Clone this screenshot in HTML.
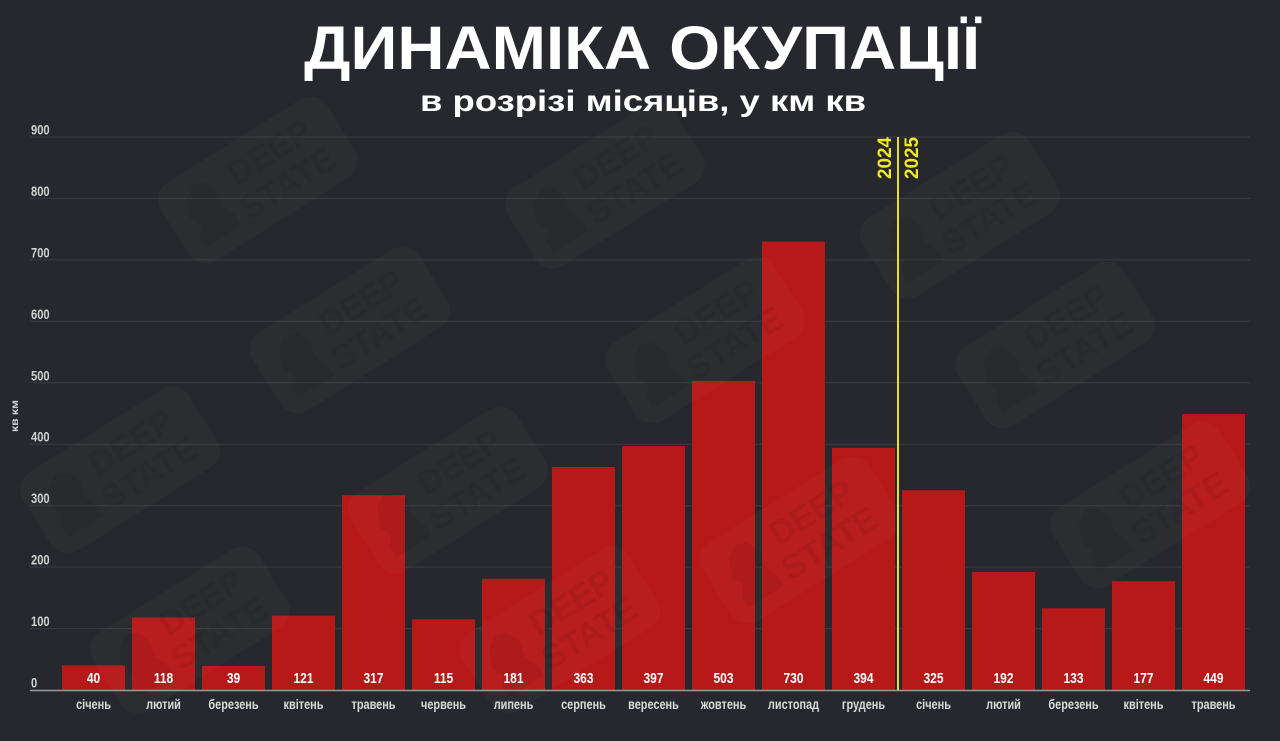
<!DOCTYPE html>
<html>
<head>
<meta charset="utf-8">
<style>
html,body{margin:0;padding:0;background:#27282d;width:1280px;height:741px;overflow:hidden;}
svg{display:block;}
text{font-family:"Liberation Sans","DejaVu Sans",sans-serif;font-weight:bold;}
</style>
</head>
<body>
<svg width="1280" height="741" viewBox="0 0 1280 741" xmlns="http://www.w3.org/2000/svg">
<rect x="0" y="0" width="1280" height="741" fill="#27282d"/>

<defs>
<clipPath id="frame"><rect x="0" y="0" width="1280" height="741"/></clipPath>
<g id="wm">
  <rect x="-98" y="-46" width="196" height="92" rx="20" fill="#ffffff" fill-opacity="0.022"/>
  <path d="M-80,30 L-80,18 L-72,8 L-78,-4 L-70,-22 L-58,-30 L-46,-26 L-40,-12 L-44,4 L-38,18 L-38,30 Z" fill="#000" fill-opacity="0.06"/>
  <text x="-22" y="-6" font-size="34" fill="#000" fill-opacity="0.06">DEEP</text>
  <text x="-30" y="30" font-size="34" fill="#000" fill-opacity="0.06">STATE</text>
</g>
</defs>

<!-- Title -->
<text x="304" y="69" font-size="61" fill="#ffffff" textLength="676" lengthAdjust="spacingAndGlyphs">ДИНАМІКА ОКУПАЦІЇ</text>
<text x="420" y="111" font-size="30" fill="#ffffff" textLength="446" lengthAdjust="spacingAndGlyphs">в розрізі місяців, у км кв</text>

<!-- Grid lines -->
<g stroke="#3b3c41" stroke-width="1">
  <line x1="30" y1="137" x2="1250" y2="137"/>
  <line x1="30" y1="198.4" x2="1250" y2="198.4"/>
  <line x1="30" y1="259.9" x2="1250" y2="259.9"/>
  <line x1="30" y1="321.3" x2="1250" y2="321.3"/>
  <line x1="30" y1="382.8" x2="1250" y2="382.8"/>
  <line x1="30" y1="444.2" x2="1250" y2="444.2"/>
  <line x1="30" y1="505.7" x2="1250" y2="505.7"/>
  <line x1="30" y1="567.1" x2="1250" y2="567.1"/>
  <line x1="30" y1="628.6" x2="1250" y2="628.6"/>
</g>

<!-- Tick labels -->
<g font-size="14" fill="#d2d2d2">
  <text transform="translate(31,134.5) scale(0.8,1)">900</text>
  <text transform="translate(31,196) scale(0.8,1)">800</text>
  <text transform="translate(31,257.4) scale(0.8,1)">700</text>
  <text transform="translate(31,318.8) scale(0.8,1)">600</text>
  <text transform="translate(31,380.3) scale(0.8,1)">500</text>
  <text transform="translate(31,441.7) scale(0.8,1)">400</text>
  <text transform="translate(31,503.2) scale(0.8,1)">300</text>
  <text transform="translate(31,564.6) scale(0.8,1)">200</text>
  <text transform="translate(31,626.1) scale(0.8,1)">100</text>
  <text transform="translate(31,687.5) scale(0.8,1)">0</text>
</g>

<!-- Axis title -->
<text transform="translate(18,432) rotate(-90)" font-size="10" fill="#d2d2d2" textLength="32" lengthAdjust="spacingAndGlyphs">кв км</text>

<!-- Bars -->
<g fill="#b71918">
  <rect x="62" y="665.4" width="63" height="24.6"/>
  <rect x="132" y="617.5" width="63" height="72.5"/>
  <rect x="202" y="666.0" width="63" height="24.0"/>
  <rect x="272" y="615.7" width="63" height="74.3"/>
  <rect x="342" y="495.2" width="63" height="194.8"/>
  <rect x="412" y="619.3" width="63" height="70.7"/>
  <rect x="482" y="578.8" width="63" height="111.2"/>
  <rect x="552" y="467.0" width="63" height="223.0"/>
  <rect x="622" y="446.1" width="63" height="243.9"/>
  <rect x="692" y="380.9" width="63" height="309.1"/>
  <rect x="762" y="241.5" width="63" height="448.5"/>
  <rect x="832" y="447.9" width="63" height="242.1"/>
  <rect x="902" y="490.3" width="63" height="199.7"/>
  <rect x="972" y="572.0" width="63" height="118.0"/>
  <rect x="1042" y="608.3" width="63" height="81.7"/>
  <rect x="1112" y="581.2" width="63" height="108.8"/>
  <rect x="1182" y="414.1" width="63" height="275.9"/>
</g>

<!-- watermarks (faint) -->
<g clip-path="url(#frame)">
  <use href="#wm" transform="translate(258,180) rotate(-32)"/>
  <use href="#wm" transform="translate(605,185) rotate(-32)"/>
  <use href="#wm" transform="translate(960,215) rotate(-32)"/>
  <use href="#wm" transform="translate(350,330) rotate(-32)"/>
  <use href="#wm" transform="translate(705,340) rotate(-32)"/>
  <use href="#wm" transform="translate(1055,345) rotate(-32)"/>
  <use href="#wm" transform="translate(120,470) rotate(-32)"/>
  <use href="#wm" transform="translate(448,490) rotate(-32)"/>
  <use href="#wm" transform="translate(800,540) rotate(-32)"/>
  <use href="#wm" transform="translate(1150,505) rotate(-32)"/>
  <use href="#wm" transform="translate(190,630) rotate(-32)"/>
  <use href="#wm" transform="translate(560,630) rotate(-32)"/>
</g>

<!-- Zero axis -->
<line x1="30" y1="690.5" x2="1250" y2="690.5" stroke="#9a9a9c" stroke-width="1.5"/>

<!-- Value labels -->
<g font-size="15" fill="#ffffff" text-anchor="middle">
  <text transform="translate(93.5,683) scale(0.8,1)">40</text>
  <text transform="translate(163.5,683) scale(0.8,1)">118</text>
  <text transform="translate(233.5,683) scale(0.8,1)">39</text>
  <text transform="translate(303.5,683) scale(0.8,1)">121</text>
  <text transform="translate(373.5,683) scale(0.8,1)">317</text>
  <text transform="translate(443.5,683) scale(0.8,1)">115</text>
  <text transform="translate(513.5,683) scale(0.8,1)">181</text>
  <text transform="translate(583.5,683) scale(0.8,1)">363</text>
  <text transform="translate(653.5,683) scale(0.8,1)">397</text>
  <text transform="translate(723.5,683) scale(0.8,1)">503</text>
  <text transform="translate(793.5,683) scale(0.8,1)">730</text>
  <text transform="translate(863.5,683) scale(0.8,1)">394</text>
  <text transform="translate(933.5,683) scale(0.8,1)">325</text>
  <text transform="translate(1003.5,683) scale(0.8,1)">192</text>
  <text transform="translate(1073.5,683) scale(0.8,1)">133</text>
  <text transform="translate(1143.5,683) scale(0.8,1)">177</text>
  <text transform="translate(1213.5,683) scale(0.8,1)">449</text>
</g>

<!-- Month labels -->
<g font-size="14" fill="#dcdcdc" text-anchor="middle">
  <text transform="translate(93.5,709) scale(0.78,1)">січень</text>
  <text transform="translate(163.5,709) scale(0.78,1)">лютий</text>
  <text transform="translate(233.5,709) scale(0.78,1)">березень</text>
  <text transform="translate(303.5,709) scale(0.78,1)">квітень</text>
  <text transform="translate(373.5,709) scale(0.78,1)">травень</text>
  <text transform="translate(443.5,709) scale(0.78,1)">червень</text>
  <text transform="translate(513.5,709) scale(0.78,1)">липень</text>
  <text transform="translate(583.5,709) scale(0.78,1)">серпень</text>
  <text transform="translate(653.5,709) scale(0.78,1)">вересень</text>
  <text transform="translate(723.5,709) scale(0.78,1)">жовтень</text>
  <text transform="translate(793.5,709) scale(0.78,1)">листопад</text>
  <text transform="translate(863.5,709) scale(0.78,1)">грудень</text>
  <text transform="translate(933.5,709) scale(0.78,1)">січень</text>
  <text transform="translate(1003.5,709) scale(0.78,1)">лютий</text>
  <text transform="translate(1073.5,709) scale(0.78,1)">березень</text>
  <text transform="translate(1143.5,709) scale(0.78,1)">квітень</text>
  <text transform="translate(1213.5,709) scale(0.78,1)">травень</text>
</g>

<!-- Year divider -->
<line x1="898" y1="137" x2="898" y2="690" stroke="#e6e02a" stroke-width="2"/>
<text transform="translate(891,179) rotate(-90)" font-size="19" fill="#f2ea1f" textLength="42" lengthAdjust="spacingAndGlyphs">2024</text>
<text transform="translate(918,179) rotate(-90)" font-size="19" fill="#f2ea1f" textLength="42" lengthAdjust="spacingAndGlyphs">2025</text>
</svg>
</body>
</html>
